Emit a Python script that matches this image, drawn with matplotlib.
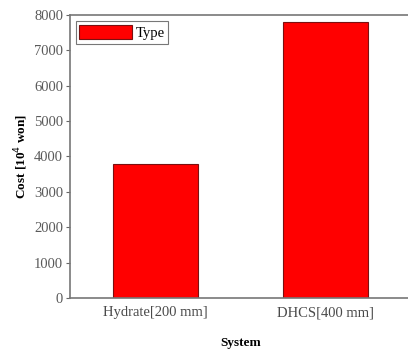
import matplotlib.pyplot as plt

# Data
systems = ['Hydrate[200 mm]', 'DHCS[400 mm]']
cost = [3800, 7800]  # 10^4 won
yticks = [0, 1000, 2000, 3000, 4000, 5000, 6000, 7000, 8000]

plt.rcParams['font.family'] = ['Liberation Serif', 'DejaVu Serif']

fig = plt.figure(figsize=(4.08, 3.5), dpi=100)
ax = fig.add_axes([0.1716, 0.149, 0.836, 0.808])

x = range(len(systems))
ax.bar(x, cost, width=0.5, color='#ff0000', edgecolor='#7a1010',
       linewidth=0.8, label='Type')

ax.set_xlim(-0.5, 1.5)
ax.set_ylim(0, 8000)
ax.set_xticks(list(x))
ax.set_xticklabels(systems, fontsize=10.5, color='#4a4a4a')
ax.set_yticks(yticks)
ax.set_yticklabels([str(v) for v in yticks], fontsize=10.5, color='#5a5a5a')
ax.tick_params(axis='x', length=0, pad=6)
ax.tick_params(axis='y', direction='out', length=3, width=0.8,
               color='#666666', pad=2)

for s in ax.spines.values():
    s.set_color('#777777')
    s.set_linewidth(1.2)

ax.set_xlabel('System', fontsize=9.5, fontweight='bold', labelpad=13)
ax.set_ylabel('Cost [10$^4$ won]', fontsize=9.5, fontweight='bold', labelpad=3)

leg = ax.legend(loc='upper left', fontsize=10.5, handlelength=3.6,
                handleheight=1.2, handletextpad=0.25, borderpad=0.25,
                fancybox=False, framealpha=1, borderaxespad=0.4)
leg.get_frame().set_edgecolor('#777777')
leg.get_frame().set_linewidth(0.8)

fig.savefig('out.png', dpi=100)
